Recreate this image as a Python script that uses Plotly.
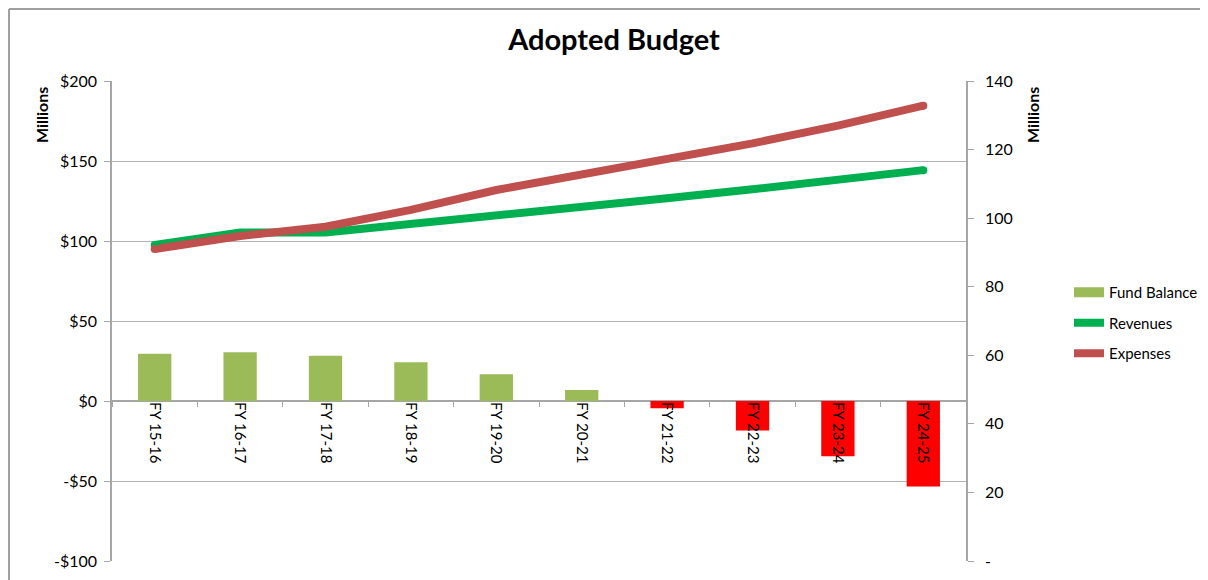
import plotly.graph_objects as go

categories = ["FY 15-16", "FY 16-17", "FY 17-18", "FY 18-19", "FY 19-20",
              "FY 20-21", "FY 21-22", "FY 22-23", "FY 23-24", "FY 24-25"]
fund_balance = [29.5, 30.4, 28.3, 24.2, 16.7, 6.9, -4.6, -18.5, -34.6, -53.5]
revenues = [92.2, 95.8, 95.8, 98.2, 100.9, 103.3, 105.8, 108.4, 111.1, 114.0]
expenses = [91.0, 94.8, 97.5, 102.4, 108.2, 112.6, 117.0, 121.8, 127.0, 132.8]

left_ticks = [-100, -50, 0, 50, 100, 150, 200]
left_labels = ["-$100", "-$50", "$0", "$50", "$100", "$150", "$200"]
right_ticks = [0, 20, 40, 60, 80, 100, 120, 140]
right_labels = ["-", "20", "40", "60", "80", "100", "120", "140"]

GREEN_BAR = "#9BBB59"
RED_BAR = "#FF0000"
REV = "#00B050"
EXP = "#C0504D"
FONT = "Lato, 'Open Sans', sans-serif"

W, H = 1200, 572
ML, MR, MT, MB = 104, 242, 73, 19
PW, PH = W - ML - MR, H - MT - MB
OFF = 8  # page offset of the figure in the browser window


def px_x(sx):
    return (sx - OFF - ML) / PW


def px_y(sy):
    return (H - MB - (sy - OFF)) / PH


bar_colors = [GREEN_BAR if v >= 0 else RED_BAR for v in fund_balance]

fig = go.Figure()
fig.add_trace(go.Bar(
    x=categories, y=fund_balance, name="Fund Balance",
    marker=dict(color=bar_colors, line=dict(width=0)),
    width=0.39, yaxis="y", showlegend=False,
))
# legend swatch for the bars (wide rectangle like the original)
fig.add_trace(go.Scatter(
    x=[categories[0]], y=[None], name="Fund Balance", mode="lines",
    line=dict(color=GREEN_BAR, width=10), yaxis="y", legendgroup="a",
    hoverinfo="skip",
))
fig.add_trace(go.Scatter(
    x=categories, y=revenues, name="Revenues", mode="lines",
    line=dict(color=REV, width=8), yaxis="y2", legendgroup="b",
))
fig.add_trace(go.Scatter(
    x=categories, y=expenses, name="Expenses", mode="lines",
    line=dict(color=EXP, width=8), yaxis="y2", legendgroup="c",
))
# round end caps
for series, col in ((revenues, REV), (expenses, EXP)):
    fig.add_trace(go.Scatter(
        x=[categories[0], categories[-1]], y=[series[0], series[-1]],
        mode="markers", marker=dict(color=col, size=8, line=dict(width=0)),
        yaxis="y2", showlegend=False, hoverinfo="skip",
    ))

fig.update_layout(
    width=W, height=H,
    margin=dict(l=ML, r=MR, t=MT, b=MB, autoexpand=False),
    paper_bgcolor="white", plot_bgcolor="white",
    font=dict(family=FONT, size=15, color="#000000"),
    title=dict(text="<b>Adopted Budget</b>", x=0.505, xref="container", xanchor="center",
               y=1 - 32 / H, yref="container", yanchor="middle",
               font=dict(size=29, family=FONT, color="#000")),
    xaxis=dict(
        type="category", range=[-0.5, 9.5], anchor="free", position=1/3,
        tickangle=90, tickson="boundaries", ticks="outside", ticklen=5,
        tickcolor="#A6A6A6", showline=False, showgrid=False, zeroline=False,
        tickfont=dict(size=15, family=FONT, color="#000"), automargin=False,
    ),
    yaxis=dict(
        range=[-100, 200], tickvals=left_ticks, ticktext=left_labels,
        showgrid=True, gridcolor="#B3B3B3", gridwidth=1,
        zeroline=True, zerolinecolor="#A6A6A6", zerolinewidth=1.5,
        showline=True, linecolor="#A6A6A6", linewidth=1.5,
        ticks="outside", ticklen=6, tickcolor="#A6A6A6", ticklabelstandoff=4,
        tickfont=dict(size=16, family=FONT, color="#000"), automargin=False,
    ),
    yaxis2=dict(
        range=[0, 140], tickvals=right_ticks, ticktext=right_labels,
        overlaying="y", side="right", showgrid=False, zeroline=False,
        showline=True, linecolor="#A6A6A6", linewidth=1.5,
        ticks="outside", ticklen=6, tickcolor="#A6A6A6", ticklabelstandoff=8,
        tickfont=dict(size=16, family=FONT, color="#000"), automargin=False,
    ),
    legend=dict(
        x=px_x(1069), y=px_y(276), xanchor="left", yanchor="top",
        traceorder="grouped", tracegroupgap=8,
        font=dict(size=15, family=FONT, color="#000"),
        itemwidth=30, bgcolor="rgba(0,0,0,0)",
    ),
    showlegend=True,
)

fig.add_annotation(text="<b>Millions</b>", xref="paper", yref="paper",
                   x=px_x(42), y=px_y(115), xanchor="center", yanchor="middle",
                   textangle=-90, showarrow=False,
                   font=dict(size=16, family=FONT, color="#000"))
fig.add_annotation(text="<b>Millions</b>", xref="paper", yref="paper",
                   x=px_x(1033), y=px_y(115), xanchor="center", yanchor="middle",
                   textangle=-90, showarrow=False,
                   font=dict(size=16, family=FONT, color="#000"))

# outer chart border (top and left edges)
fig.add_shape(type="line", xref="paper", yref="paper",
              x0=px_x(OFF + 1), x1=px_x(1220),
              y0=px_y(OFF + 1), y1=px_y(OFF + 1),
              line=dict(color="#A0A0A0", width=2))
fig.add_shape(type="line", xref="paper", yref="paper",
              x0=px_x(OFF + 1), x1=px_x(OFF + 1),
              y0=px_y(OFF + 1), y1=px_y(600),
              line=dict(color="#A0A0A0", width=2))

fig.write_html("out.html")
